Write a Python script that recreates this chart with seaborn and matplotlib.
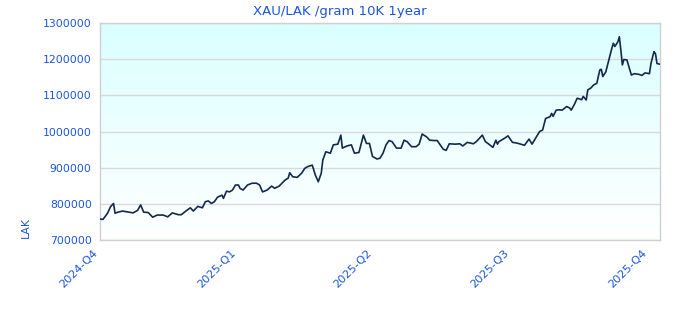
import numpy as np
import pandas as pd
import matplotlib
matplotlib.use("Agg")
import matplotlib.pyplot as plt
import matplotlib.transforms as mtransforms
import seaborn as sns

# ---- data ----
start_date = "2024-10-01"
day_offsets = [0, 2, 5, 7, 9, 10, 12, 15, 19, 22, 25, 27, 29, 32, 35, 38, 42, 45, 48, 52,
               54, 58, 60, 62, 65, 68, 70, 72, 74, 76, 78, 81, 82, 84, 86, 88, 90, 92, 93, 95,
               98, 101, 104, 106, 108, 111, 114, 116, 119, 123, 125, 126, 128, 131, 134, 136, 138, 141, 143, 145,
               147, 148, 150, 153, 155, 158, 160, 161, 164, 167, 169, 172, 175, 177, 179, 181, 184, 186, 188, 190,
               192, 194, 197, 200, 202, 204, 207, 210, 212, 214, 217, 219, 222, 224, 226, 228, 230, 232, 236, 239,
               241, 244, 248, 250, 254, 256, 258, 261, 263, 264, 265, 269, 271, 274, 277, 282, 285, 287, 290, 292,
               294, 296, 299, 300, 301, 303, 305, 307, 310, 312, 313, 315, 317, 320, 321, 323, 324, 326, 328, 330,
               332, 333, 334, 336, 338, 340, 341, 342, 344, 345, 346, 347, 348, 350, 353, 355, 358, 360, 362, 365,
               366, 368, 369, 370, 372]
values_k = [758, 757, 774, 792, 801, 774, 777, 780, 777, 775, 782, 797, 777, 776, 763, 769, 769, 764, 775, 770,
            770, 783, 789, 780, 793, 789, 806, 808, 801, 806, 818, 824, 815, 835, 833, 838, 852, 852, 843, 838,
            852, 857, 857, 852, 833, 838, 849, 843, 849, 866, 871, 886, 875, 873, 885, 898, 903, 907, 880, 861,
            885, 921, 944, 940, 963, 965, 990, 954, 960, 963, 940, 942, 990, 967, 967, 931, 924, 926, 940, 963,
            975, 972, 954, 954, 976, 972, 958, 958, 965, 993, 985, 976, 975, 975, 963, 951, 948, 966, 965, 966,
            960, 970, 966, 972, 990, 972, 966, 956, 976, 965, 972, 982, 988, 970, 968, 962, 979, 965, 986, 1000,
            1004, 1036, 1041, 1050, 1042, 1059, 1060, 1059, 1069, 1065, 1059, 1074, 1092, 1088, 1097, 1087, 1115, 1120, 1129, 1133,
            1170, 1172, 1152, 1165, 1198, 1230, 1244, 1235, 1248, 1262, 1225, 1184, 1199, 1198, 1156, 1160, 1158, 1155, 1162, 1160,
            1188, 1221, 1215, 1188, 1186]
quarter_starts = ["2024-10-01", "2025-01-01", "2025-04-01", "2025-07-01", "2025-10-01"]
quarter_labels = ["2024-Q4", "2025-Q1", "2025-Q2", "2025-Q3", "2025-Q4"]
y_ticks = [700000, 800000, 900000, 1000000, 1100000, 1200000, 1300000]

title = "XAU/LAK /gram 10K 1year"
ylabel = "LAK"

dates = pd.Timestamp(start_date) + pd.to_timedelta(day_offsets, unit="D")
df = pd.DataFrame({"date": dates, "price": np.array(values_k) * 1000})

# ---- style ----
sns.set_style("white")
plt.rcParams["font.family"] = ["DejaVu Sans"]
blue = "#1a56db"
grid_col = "#d9d9d9"

fig = plt.figure(figsize=(6.8, 3.2), dpi=100)
ax = fig.add_axes([100 / 680, 1 - 240 / 320, 560 / 680, 217 / 320])

# gradient background
grad = np.linspace(0, 1, 256).reshape(-1, 1)
top = np.array([0.855, 1.0, 1.0])
bot = np.array([1.0, 1.0, 1.0])
img = top[None, None, :] * (1 - grad[..., None]) + bot[None, None, :] * grad[..., None]
ax.imshow(img, extent=[0, 1, 0, 1], transform=ax.transAxes, aspect="auto", zorder=0)

sns.lineplot(data=df, x="date", y="price", ax=ax, color="#15284a", linewidth=1.2, zorder=3)

ax.set_xlim(df["date"].iloc[0], df["date"].iloc[-1])
ax.set_ylim(700000, 1300000)
ax.set_yticks(y_ticks)
ax.set_yticklabels([str(v) for v in y_ticks])
ax.set_xticks(pd.to_datetime(quarter_starts))
ax.set_xticklabels(quarter_labels, rotation=45, ha="right", va="center", rotation_mode="anchor")
ax.yaxis.grid(True, color=grid_col, linewidth=1.0, zorder=1)
ax.xaxis.grid(False)
ax.set_axisbelow(True)
for s in ax.spines.values():
    s.set_color("#d0d0d0")
    s.set_linewidth(1.0)
ax.tick_params(axis="y", length=0, labelsize=7.8, labelcolor=blue, pad=6)
ax.tick_params(axis="x", length=0, labelsize=8.2, labelcolor=blue, pad=8)
offset = mtransforms.ScaledTranslation(-4 / 100, 0, fig.dpi_scale_trans)
for lab in ax.get_xticklabels():
    lab.set_transform(lab.get_transform() + offset)
ax.set_xlabel("")
ax.set_ylabel("")
fig.text(0.5, 1 - 11 / 320, title, color=blue, fontsize=9.5, ha="center", va="center")
fig.text(26 / 680, 1 - 228 / 320, ylabel, rotation=90, ha="center", va="center",
         color=blue, fontsize=7.8)

fig.savefig("out.png", dpi=100)
